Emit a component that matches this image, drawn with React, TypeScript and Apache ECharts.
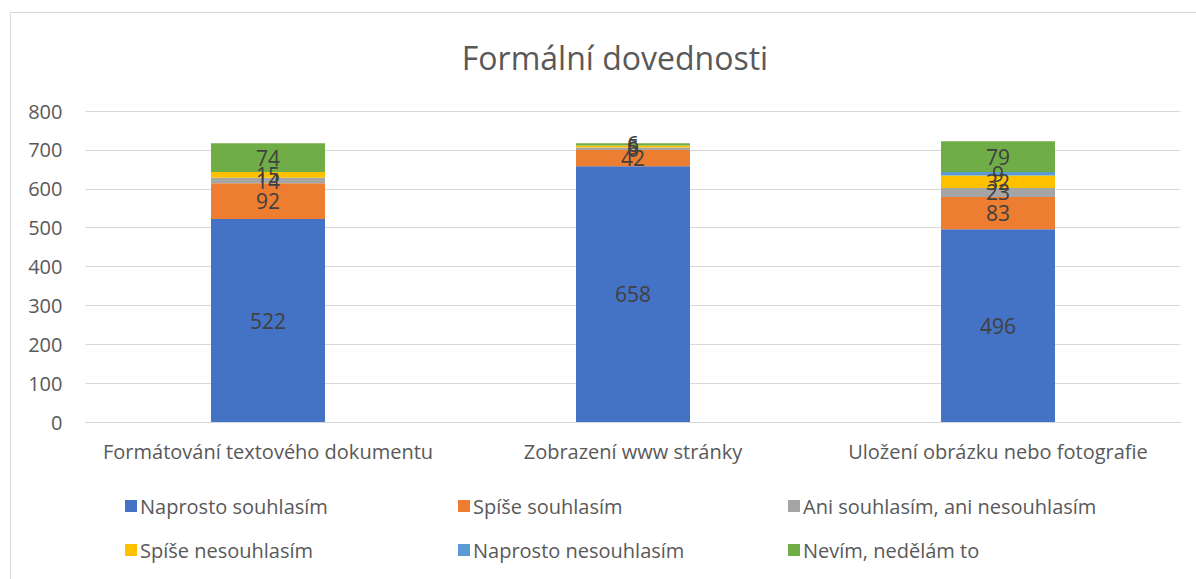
import React, { useEffect, useRef } from "react";
import * as echarts from "echarts";

const categories = [
  "Formátování textového dokumentu",
  "Zobrazení www stránky",
  "Uložení obrázku nebo fotografie",
];
const seriesNames = [
  "Naprosto souhlasím",
  "Spíše souhlasím",
  "Ani souhlasím, ani nesouhlasím",
  "Spíše nesouhlasím",
  "Naprosto nesouhlasím",
  "Nevím, nedělám to",
];
const naprostoSouhlasim = [522, 658, 496];
const spiseSouhlasim = [92, 42, 83];
const aniAni = [14, 6, 23];
const spiseNesouhlasim = [15, 5, 32];
const naprostoNesouhlasim: (number | null)[] = [null, null, 9];
const nevim = [74, 6, 79];
const colors = ["#4472C4", "#ED7D31", "#A5A5A5", "#FFC000", "#5B9BD5", "#70AD47"];
const yTicks = { min: 0, max: 800, interval: 100 };

const FONT = "'Open Sans', 'Noto Sans', sans-serif";

export default function App() {
  const ref = useRef<HTMLDivElement>(null);
  useEffect(() => {
    document.body.style.margin = "0";
    const chart = echarts.init(ref.current!, null, { renderer: "svg" });
    const values = [naprostoSouhlasim, spiseSouhlasim, aniAni, spiseNesouhlasim, naprostoNesouhlasim, nevim];
    const legendPos = [
      { left: 120, top: 491 },
      { left: 453, top: 491 },
      { left: 783, top: 491 },
      { left: 120, top: 535 },
      { left: 453, top: 535 },
      { left: 783, top: 535 },
    ];
    chart.setOption({
      animation: false,
      color: colors,
      title: {
        text: "Formální dovednosti",
        left: 610,
        textAlign: "center",
        top: 36,
        textStyle: { fontFamily: FONT, fontSize: 32, fontWeight: "normal", color: "#595959" },
      },
      graphic: [
        {
          type: "rect",
          shape: { x: 10.5, y: 12.5, width: 1200, height: 600 },
          style: { fill: "none", stroke: "#d9d9d9", lineWidth: 1 },
          silent: true,
        },
      ],
      legend: seriesNames.map((n, i) => ({
        data: [n],
        left: legendPos[i].left,
        top: legendPos[i].top,
        icon: "rect",
        itemWidth: 12,
        itemHeight: 12,
        itemGap: 6,
        textStyle: { fontFamily: FONT, fontSize: 20, color: "#595959", padding: [0, 0, 0, -2] },
      })),
      grid: { left: 85.5, right: 15.5, top: 111, bottom: 157 },
      xAxis: {
        type: "category",
        data: categories,
        axisTick: { show: false },
        axisLine: { lineStyle: { color: "#d9d9d9" } },
        axisLabel: { fontFamily: FONT, fontSize: 20, color: "#595959", margin: 19, interval: 0, hideOverlap: false },
      },
      yAxis: {
        type: "value",
        min: yTicks.min,
        max: yTicks.max,
        interval: yTicks.interval,
        axisLine: { show: false },
        axisTick: { show: false },
        splitLine: { lineStyle: { color: "#d9d9d9" } },
        axisLabel: { fontFamily: FONT, fontSize: 20, color: "#595959", margin: 23 },
      },
      series: seriesNames.map((n, i) => ({
        name: n,
        type: "bar",
        stack: "total",
        barWidth: 114,
        data: values[i],
        label: {
          show: true,
          position: "inside",
          fontFamily: FONT,
          fontSize: 21,
          color: "#404040",
          formatter: (p: any) => (p.value == null ? "" : String(p.value)),
        },
      })),
    });
    return () => chart.dispose();
  }, []);
  return <div ref={ref} style={{ width: 1196, height: 579 }} />;
}
